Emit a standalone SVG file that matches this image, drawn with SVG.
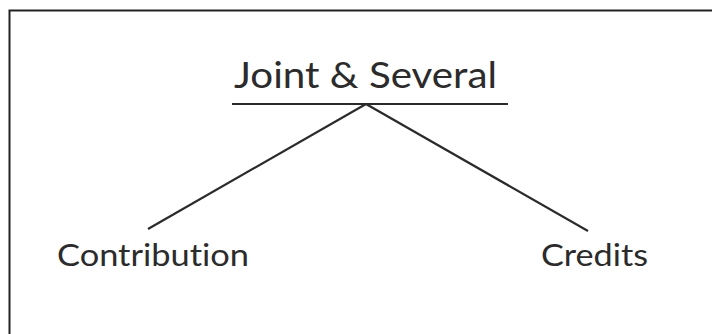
<svg xmlns="http://www.w3.org/2000/svg" width="712" height="334" viewBox="0 0 712 334">
<style>
.t{font-family:Lato,"Liberation Sans",sans-serif;fill:#2b2b2b;font-variant-ligatures:none;font-feature-settings:"liga" 0;}
.c{stroke:#2b2b2b;stroke-width:2.2;fill:none;}
</style>
<rect width="712" height="334" fill="#fff"/>
<path d="M9.5 334 V10.5 H712" fill="none" stroke="#222" stroke-width="2"/>
<g id="root"><text class="t" x="234" y="88" font-size="37" textLength="263" lengthAdjust="spacingAndGlyphs">Joint &amp; Several</text></g>
<g id="contribution"><text class="t" x="57" y="266" font-size="31" textLength="192" lengthAdjust="spacingAndGlyphs">Contribution</text></g>
<g id="credits"><text class="t" x="541" y="266" font-size="31" textLength="107" lengthAdjust="spacingAndGlyphs">Credits</text></g>
<g id="connectors">
<line class="c" x1="232" y1="104" x2="508" y2="104"/>
<line class="c" x1="366" y1="104" x2="148" y2="229"/>
<line class="c" x1="366" y1="104" x2="588" y2="231"/>
</g>
</svg>
